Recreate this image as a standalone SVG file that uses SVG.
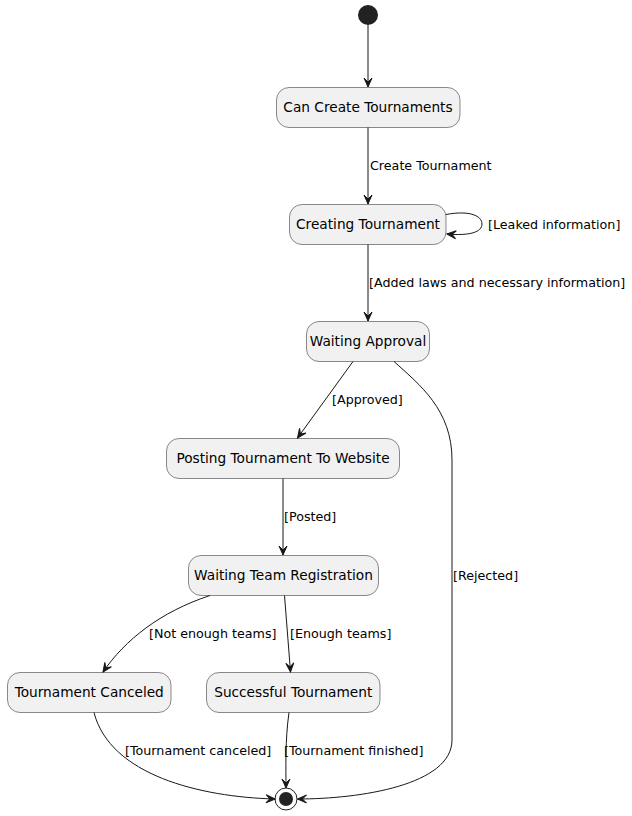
<svg xmlns="http://www.w3.org/2000/svg" width="632" height="816" viewBox="0 0 632 816">
<defs>
<style>
.st rect{fill:#F1F1F1;stroke:#181818;stroke-width:0.5}
.st text{font-family:"DejaVu Sans",sans-serif;font-size:13.7px;fill:#000;text-anchor:middle}
.lbl{font-family:"DejaVu Sans",sans-serif;font-size:12.7px;fill:#000}
.edge{fill:none;stroke:#181818;stroke-width:1;marker-end:url(#ah)}
</style>
<marker id="ah" viewBox="-10 -5 11 10" refX="0" refY="0" markerWidth="11" markerHeight="10" markerUnits="userSpaceOnUse" orient="auto">
<path d="M0,0 L-9,-4 L-5,0 L-9,4 Z" fill="#181818" stroke="#181818" stroke-width="1"/>
</marker>
</defs>
<rect width="632" height="816" fill="#FFFFFF"/>
<g id="start"><circle cx="368" cy="15" r="10" fill="#222222"/></g>
<g id="canCreate" class="st"><rect x="276.5" y="87.5" width="183.5" height="40" rx="12.5"/><text x="368" y="112">Can Create Tournaments</text></g>
<g id="creating" class="st"><rect x="289.5" y="204.5" width="156.5" height="40" rx="12.5"/><text x="368" y="229">Creating Tournament</text></g>
<g id="waitingApproval" class="st"><rect x="306.5" y="321.5" width="123" height="40" rx="12.5"/><text x="368" y="346">Waiting Approval</text></g>
<g id="posting" class="st"><rect x="166.5" y="438.5" width="233" height="40" rx="12.5"/><text x="283" y="463">Posting Tournament To Website</text></g>
<g id="waitingTeam" class="st"><rect x="188.5" y="555.5" width="190" height="40" rx="12.5"/><text x="283.5" y="580">Waiting Team Registration</text></g>
<g id="canceled" class="st"><rect x="7.5" y="672.5" width="163.5" height="40" rx="12.5"/><text x="89.25" y="697">Tournament Canceled</text></g>
<g id="successful" class="st"><rect x="206.5" y="672.5" width="173.5" height="40" rx="12.5"/><text x="293.25" y="697">Successful Tournament</text></g>
<g id="end"><circle cx="286" cy="799" r="11" fill="#FFFFFF" stroke="#222222" stroke-width="1"/><circle cx="286" cy="799" r="7" fill="#222222"/></g>
<g id="connectors">
<path class="edge" d="M368,25 L368,87"/>
<path class="edge" d="M368,127.5 L368,204"/>
<path class="edge" d="M446,214.5 C470,210 482,216 482,224 C482,232 470,236 447,234"/>
<path class="edge" d="M368,244.5 L368,321"/>
<path class="edge" d="M353,361.5 L297.5,438"/>
<path class="edge" d="M394,361.5 C420,385 452,410 452,460 L452,740 C452,785 360,799 297.5,799"/>
<path class="edge" d="M283,478.5 L283,555"/>
<path class="edge" d="M210,595.5 C160,612 125,640 103,672"/>
<path class="edge" d="M284.5,595.5 L290.5,672"/>
<path class="edge" d="M94,712.5 C110,775 200,797 275,799"/>
<path class="edge" d="M289,712.5 C285,740 286,770 286,788"/>
</g>
<g id="labels">
<text class="lbl" x="370" y="170">Create Tournament</text>
<text class="lbl" x="488" y="229">[Leaked information]</text>
<text class="lbl" x="369" y="287">[Added laws and necessary information]</text>
<text class="lbl" x="332" y="404">[Approved]</text>
<text class="lbl" x="284" y="521">[Posted]</text>
<text class="lbl" x="453" y="580">[Rejected]</text>
<text class="lbl" x="149" y="638">[Not enough teams]</text>
<text class="lbl" x="290" y="638">[Enough teams]</text>
<text class="lbl" x="125" y="755">[Tournament canceled]</text>
<text class="lbl" x="284" y="755">[Tournament finished]</text>
</g>
</svg>
